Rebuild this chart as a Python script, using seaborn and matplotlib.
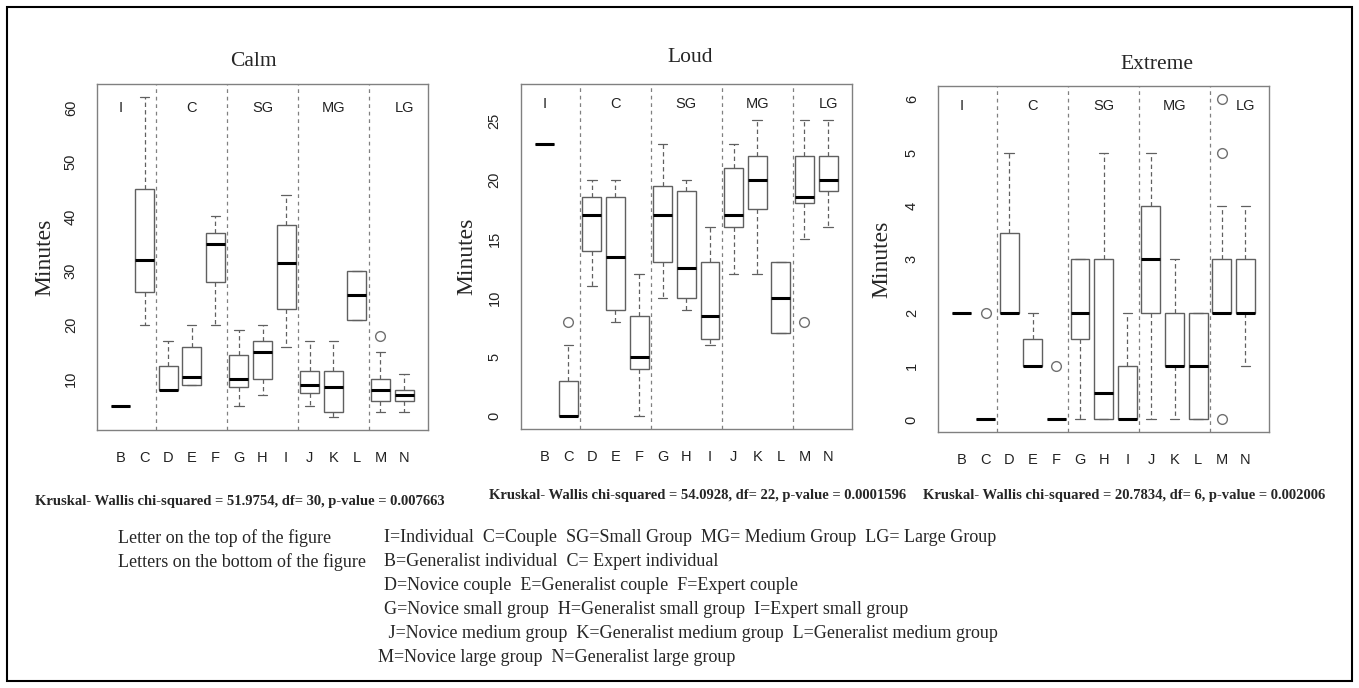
import numpy as np
import pandas as pd
import matplotlib
matplotlib.use("Agg")
import matplotlib.pyplot as plt
import seaborn as sns
from matplotlib.patches import Rectangle

# ---------------- data ----------------
letters = ["B", "C", "D", "E", "F", "G", "H", "I", "J", "K", "L", "M", "N"]
groups = ["I", "C", "SG", "MG", "LG"]
group_pos = [0, 3, 6, 9, 12]
separators = [1.5, 4.5, 7.5, 10.5]
panels = ["Calm", "Loud", "Extreme"]

# Calm: whisker low, Q1, median, Q3, whisker high, outliers
calm_lo  = [5, 20, 8, 9, 20, 5, 7, 16, 5, 3, 21, 4, 4]
calm_q1  = [5, 26, 8, 9, 28, 8.5, 10, 23, 7.5, 4, 21, 6, 6]
calm_med = [5, 32, 8, 10.5, 35, 10, 15, 31.5, 9, 8.5, 25.5, 8, 7]
calm_q3  = [5, 45, 12.5, 16, 37, 14.5, 17, 38.5, 11.5, 11.5, 30, 10, 8]
calm_hi  = [5, 62, 17, 20, 40, 19, 20, 44, 17, 17, 30, 15, 11]
calm_out = [[], [], [], [], [], [], [], [], [], [], [], [18], []]

# Loud
loud_lo  = [23, 0, 11, 8, 0, 10, 9, 6, 12, 12, 7, 15, 16]
loud_q1  = [23, 0, 14, 9, 4, 13, 10, 6.5, 16, 17.5, 7, 18, 19]
loud_med = [23, 0, 17, 13.5, 5, 17, 12.5, 8.5, 17, 20, 10, 18.5, 20]
loud_q3  = [23, 3, 18.5, 18.5, 8.5, 19.5, 19, 13, 21, 22, 13, 22, 22]
loud_hi  = [23, 6, 20, 20, 12, 23, 20, 16, 23, 25, 13, 25, 25]
loud_out = [[], [8], [], [], [], [], [], [], [], [], [], [8], []]

# Extreme
ext_lo  = [2, 0, 2, 1, 0, 0, 0, 0, 0, 0, 0, 2, 1]
ext_q1  = [2, 0, 2, 1, 0, 1.5, 0, 0, 2, 1, 0, 2, 2]
ext_med = [2, 0, 2, 1, 0, 2, 0.5, 0, 3, 1, 1, 2, 2]
ext_q3  = [2, 0, 3.5, 1.5, 0, 3, 3, 1, 4, 2, 2, 3, 3]
ext_hi  = [2, 0, 5, 2, 0, 3, 5, 2, 5, 3, 2, 4, 4]
ext_out = [[], [2], [], [], [1], [], [], [], [], [], [], [0, 5, 6], []]

yticks = [[10, 20, 30, 40, 50, 60], [0, 5, 10, 15, 20, 25], [0, 1, 2, 3, 4, 5, 6]]
ylims = [(0.64, 64.36), (-1.08, 28.08), (-0.24, 6.24)]
group_label_y = [60, 26.4, 5.88]

stats_text = [
    "Kruskal- Wallis chi-squared = 51.9754, df= 30, p-value = 0.007663",
    "Kruskal- Wallis chi-squared = 54.0928, df= 22, p-value = 0.0001596",
    "Kruskal- Wallis chi-squared = 20.7834, df= 6, p-value = 0.002006",
]
legend_left = ["Letter on the top of the figure", "Letters on the bottom of the figure"]
legend_right = [
    "I=Individual  C=Couple  SG=Small Group  MG= Medium Group  LG= Large Group",
    "B=Generalist individual  C= Expert individual",
    "D=Novice couple  E=Generalist couple  F=Expert couple",
    "G=Novice small group  H=Generalist small group  I=Expert small group",
    " J=Novice medium group  K=Generalist medium group  L=Generalist medium group",
    "M=Novice large group  N=Generalist large group",
]


def sample_from_summary(lo, q1, med, q3, hi, out):
    """Observations (17 values) whose linear quartiles and 1.5 IQR whiskers
    reproduce exactly the summary read from the picture."""
    low_o = sorted(o for o in out if o < q1)
    high_o = sorted(o for o in out if o > q3)
    vals = low_o + [lo] + [q1] * (3 - len(low_o))
    vals += [q1] + [med] * 3 + [med] + [med] * 3 + [q3]
    vals += [q3] * (3 - len(high_o)) + [hi] + high_o
    return vals


def build_frame(lo, q1, med, q3, hi, out):
    rows = []
    for i, L in enumerate(letters):
        for v in sample_from_summary(lo[i], q1[i], med[i], q3[i], hi[i], out[i]):
            rows.append((L, v))
    return pd.DataFrame(rows, columns=["letter", "minutes"])


frames = [
    build_frame(calm_lo, calm_q1, calm_med, calm_q3, calm_hi, calm_out),
    build_frame(loud_lo, loud_q1, loud_med, loud_q3, loud_hi, loud_out),
    build_frame(ext_lo, ext_q1, ext_med, ext_q3, ext_hi, ext_out),
]

# ---------------- style ----------------
sns.set_style("white")
plt.rcParams["font.family"] = ["Liberation Sans", "DejaVu Sans"]

W, H = 1359, 688
fig = plt.figure(figsize=(W / 100, H / 100), dpi=100)

# axes rectangles in pixels: left, top, right, bottom
rects = [(97.3, 84.3, 427.7, 430.0), (521.0, 84.0, 851.7, 429.0), (938.3, 86.3, 1269.0, 432.3)]
ylabel_x = [-0.126, -0.133, -0.138]
titles_pos = [(253, 66), (690, 62), (1157, 69)]
stats_pos = [(35, 501), (489, 496), (923, 496)]

edge = "#606060"
for k, df in enumerate(frames):
    l, t, r, b = rects[k]
    ax = fig.add_axes([l / W, 1 - b / H, (r - l) / W, (b - t) / H])
    sns.boxplot(
        data=df, x="letter", y="minutes", order=letters, ax=ax,
        width=0.8, whis=1.5, color="white", linecolor=edge, linewidth=1.0,
        medianprops={"color": "black", "linewidth": 2.2},
        whiskerprops={"color": edge, "linestyle": (0, (3.5, 2.5)), "linewidth": 0.9},
        capprops={"color": edge, "linewidth": 0.9},
        flierprops={"marker": "o", "markerfacecolor": "none", "markeredgecolor": "#707070",
                    "markersize": 7, "markeredgewidth": 1.0},
    )
    for s in separators:
        ax.axvline(s, color="#808080", linestyle=(0, (3, 3)), linewidth=0.9, zorder=0)
    for g, p in zip(groups, group_pos):
        ax.text(p, group_label_y[k], g, ha="center", va="center", fontsize=10.5, color="#222222")
    ax.set_xlim(-1, 13)
    ax.set_ylim(*ylims[k])
    ax.set_yticks(yticks[k])
    ax.set_yticklabels([str(v) for v in yticks[k]], rotation=90, va="center")
    ax.set_xlabel("")
    ax.set_ylabel("Minutes", fontsize=17, family=["Liberation Serif"])
    ax.yaxis.set_label_coords(ylabel_x[k], 0.5)
    for sp in ax.spines.values():
        sp.set_visible(True)
        sp.set_color("#808080")
        sp.set_linewidth(1.0)
    ax.tick_params(axis="both", direction="out", length=6, width=0.9, color="#808080",
                   labelsize=10.5, labelcolor="#222222")
    ax.tick_params(axis="x", pad=9)
    ax.tick_params(axis="y", pad=8)

    tx, ty = titles_pos[k]
    fig.text(tx / W, 1 - ty / H, panels[k], ha="center", va="baseline",
             fontsize=15.5, family=["Liberation Serif"])
    sx, sy = stats_pos[k]
    fig.text(sx / W, 1 - sy / H, stats_text[k], ha="left", va="center",
             fontsize=10.5, fontweight="bold", family=["Liberation Serif"])

# legend block
line_y = [538, 562, 586, 610, 634, 657]
for i, s in enumerate(legend_left):
    fig.text(118 / W, 1 - line_y[i] / H, s, ha="left", va="center",
             fontsize=13, family=["Liberation Serif"])
right_x = [384, 384, 384, 384, 384, 378]
for i, s in enumerate(legend_right):
    fig.text(right_x[i] / W, 1 - line_y[i] / H, s, ha="left", va="center",
             fontsize=13, family=["Liberation Serif"])

# outer frame
fig.patches.append(Rectangle((7 / W, 7 / H), 1 - 14 / W, 1 - 14 / H, transform=fig.transFigure,
                             fill=False, edgecolor="black", linewidth=1.5))

fig.savefig("out.png", dpi=100)
